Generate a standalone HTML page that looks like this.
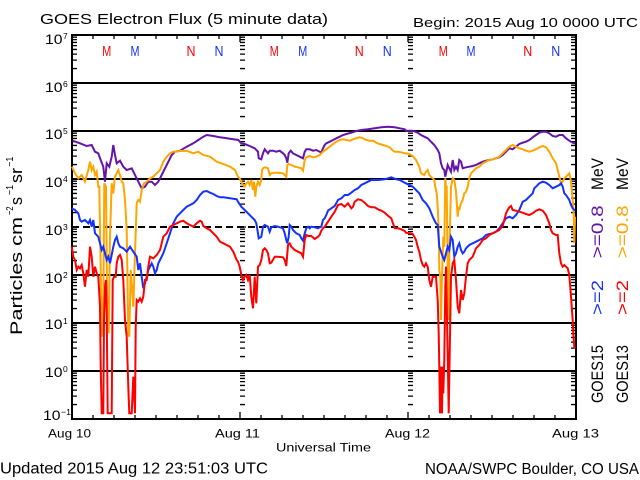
<!DOCTYPE html>
<html><head><meta charset="utf-8"><style>
html,body{margin:0;padding:0;background:#fff;}
svg{display:block;}
text{font-family:"Liberation Sans",sans-serif;fill:#000;}
</style></head><body>
<svg width="640" height="480" viewBox="0 0 640 480" xmlns="http://www.w3.org/2000/svg">
<defs>
<path id="dl" d="M0,-14.45h5M0,-22.9h5M0,-28.9h5M0,-33.55h5M0,-37.35h5M0,-40.56h5M0,-43.35h5M0,-45.8h5" stroke="#000" stroke-width="1.3" fill="none"/>
<path id="dr" d="M0,-14.45h-5M0,-22.9h-5M0,-28.9h-5M0,-33.55h-5M0,-37.35h-5M0,-40.56h-5M0,-43.35h-5M0,-45.8h-5" stroke="#000" stroke-width="1.3" fill="none"/>
</defs>
<rect width="640" height="480" fill="#fff"/>

<!-- title -->
<text x="40" y="24" font-size="15" textLength="288" lengthAdjust="spacingAndGlyphs">GOES Electron Flux (5 minute data)</text>
<text x="413" y="27" font-size="12.5" textLength="225" lengthAdjust="spacingAndGlyphs">Begin: 2015 Aug 10 0000 UTC</text>

<!-- grid -->
<g stroke="#000" stroke-width="2" shape-rendering="crispEdges" fill="none">
<path d="M72,83H576M72,131H576M72,179H576M72,275H576M72,323H576M72,371H576"/>
<path d="M72,227H576" stroke-dasharray="7 4"/>
<rect x="72" y="35" width="504" height="384"/>
</g>

<!-- x ticks -->
<g stroke="#000" stroke-width="1.3" fill="none">
<path d="M93,35v4M114,35v4M135,35v4M156,35v4M177,35v4M198,35v4M219,35v4M240,35v7M261,35v4M282,35v4M303,35v4M324,35v4M345,35v4M366,35v4M387,35v4M408,35v7M429,35v4M450,35v4M471,35v4M492,35v4M513,35v4M534,35v4M555,35v4"/>
<path d="M93,419v-4M114,419v-4M135,419v-4M156,419v-4M177,419v-4M198,419v-4M219,419v-4M240,419v-7M261,419v-4M282,419v-4M303,419v-4M324,419v-4M345,419v-4M366,419v-4M387,419v-4M408,419v-7M429,419v-4M450,419v-4M471,419v-4M492,419v-4M513,419v-4M534,419v-4M555,419v-4"/>
<path d="M240,83h6M240,131h6M240,179h6M240,227h6M240,275h6M240,323h6M240,371h6M408,83h6M408,131h6M408,179h6M408,227h6M408,275h6M408,323h6M408,371h6"/>
</g>

<!-- log minor ticks -->
<g>
<use href="#dl" transform="translate(72,83)"/><use href="#dl" transform="translate(72,131)"/><use href="#dl" transform="translate(72,179)"/><use href="#dl" transform="translate(72,227)"/><use href="#dl" transform="translate(72,275)"/><use href="#dl" transform="translate(72,323)"/><use href="#dl" transform="translate(72,371)"/><use href="#dl" transform="translate(72,419)"/>
<use href="#dl" transform="translate(240,83)"/><use href="#dl" transform="translate(240,131)"/><use href="#dl" transform="translate(240,179)"/><use href="#dl" transform="translate(240,227)"/><use href="#dl" transform="translate(240,275)"/><use href="#dl" transform="translate(240,323)"/><use href="#dl" transform="translate(240,371)"/><use href="#dl" transform="translate(240,419)"/>
<use href="#dl" transform="translate(408,83)"/><use href="#dl" transform="translate(408,131)"/><use href="#dl" transform="translate(408,179)"/><use href="#dl" transform="translate(408,227)"/><use href="#dl" transform="translate(408,275)"/><use href="#dl" transform="translate(408,323)"/><use href="#dl" transform="translate(408,371)"/><use href="#dl" transform="translate(408,419)"/>
<use href="#dr" transform="translate(576,83)"/><use href="#dr" transform="translate(576,131)"/><use href="#dr" transform="translate(576,179)"/><use href="#dr" transform="translate(576,227)"/><use href="#dr" transform="translate(576,275)"/><use href="#dr" transform="translate(576,323)"/><use href="#dr" transform="translate(576,371)"/><use href="#dr" transform="translate(576,419)"/>
</g>

<!-- y labels -->
<g font-size="13.5">
<text x="45" y="44" textLength="17.5" lengthAdjust="spacingAndGlyphs">10</text><text x="63" y="39" font-size="8.5">7</text>
<text x="45" y="92" textLength="17.5" lengthAdjust="spacingAndGlyphs">10</text><text x="63" y="87" font-size="8.5">6</text>
<text x="45" y="139" textLength="17.5" lengthAdjust="spacingAndGlyphs">10</text><text x="63" y="134" font-size="8.5">5</text>
<text x="45" y="187" textLength="17.5" lengthAdjust="spacingAndGlyphs">10</text><text x="63" y="182" font-size="8.5">4</text>
<text x="45" y="235" textLength="17.5" lengthAdjust="spacingAndGlyphs">10</text><text x="63" y="230" font-size="8.5">3</text>
<text x="45" y="283" textLength="17.5" lengthAdjust="spacingAndGlyphs">10</text><text x="63" y="278" font-size="8.5">2</text>
<text x="45" y="329" textLength="17.5" lengthAdjust="spacingAndGlyphs">10</text><text x="63" y="324" font-size="8.5">1</text>
<text x="45" y="377" textLength="17.5" lengthAdjust="spacingAndGlyphs">10</text><text x="63" y="372" font-size="8.5">0</text>
<text x="43" y="420" textLength="17.5" lengthAdjust="spacingAndGlyphs">10</text><text x="61" y="415" font-size="8.5" textLength="10" lengthAdjust="spacingAndGlyphs">−1</text>
</g>

<!-- y axis title -->
<g transform="translate(22,335) rotate(-90)" font-size="17">
<text x="0" y="0" textLength="118" lengthAdjust="spacingAndGlyphs">Particles cm</text>
<text x="120" y="-9" font-size="10" textLength="8.5" lengthAdjust="spacingAndGlyphs">−2</text>
<text x="130" y="0" textLength="8" lengthAdjust="spacingAndGlyphs">s</text>
<text x="140" y="-9" font-size="10" textLength="10" lengthAdjust="spacingAndGlyphs">−1</text>
<text x="152" y="0" textLength="15" lengthAdjust="spacingAndGlyphs">sr</text>
<text x="168.3" y="-9" font-size="10" textLength="10" lengthAdjust="spacingAndGlyphs">−1</text>
</g>

<!-- M/N markers -->
<g font-size="15">
<text x="102.2" y="56" fill="#ff0000" style="fill:#ff0000" textLength="9" lengthAdjust="spacingAndGlyphs">M</text>
<text x="130.5" y="56" style="fill:#1432ff" textLength="9" lengthAdjust="spacingAndGlyphs">M</text>
<text x="186.5" y="56" style="fill:#ff0000" textLength="9" lengthAdjust="spacingAndGlyphs">N</text>
<text x="214.5" y="56" style="fill:#1432ff" textLength="9" lengthAdjust="spacingAndGlyphs">N</text>
<text x="269.8" y="56" style="fill:#ff0000" textLength="9" lengthAdjust="spacingAndGlyphs">M</text>
<text x="298.2" y="56" style="fill:#1432ff" textLength="9" lengthAdjust="spacingAndGlyphs">M</text>
<text x="354.8" y="56" style="fill:#ff0000" textLength="9" lengthAdjust="spacingAndGlyphs">N</text>
<text x="382.8" y="56" style="fill:#1432ff" textLength="9" lengthAdjust="spacingAndGlyphs">N</text>
<text x="438.8" y="56" style="fill:#ff0000" textLength="9" lengthAdjust="spacingAndGlyphs">M</text>
<text x="466.5" y="56" style="fill:#1432ff" textLength="9" lengthAdjust="spacingAndGlyphs">M</text>
<text x="523.2" y="56" style="fill:#ff0000" textLength="9" lengthAdjust="spacingAndGlyphs">N</text>
<text x="551.2" y="56" style="fill:#1432ff" textLength="9" lengthAdjust="spacingAndGlyphs">N</text>
</g>

<!-- data -->
<g fill="none" stroke-width="2" stroke-linejoin="miter">
<polyline stroke="#6414aa" points="72.7,140.7 80,143.3 86.7,146 91.7,145 95,151.7 98.3,153.3 100.7,160 103.3,166.7 105,181.7 106.7,163.3 109.3,166.7 111.7,156.7 113.3,145 115,155 116.7,163.3 120,160.7 123.3,166.7 126.7,170 131.7,168.3 135,175 138.3,181.7 141.7,188.3 145,186.7 148.3,181.7 151.7,181.7 155,185 158.3,181.7 161.7,175 166.7,165 171.7,155 175,151.7 180,150.7 186.7,146.7 193.3,143.3 198.3,140 203.3,136.7 206.7,135 213.3,136 220,137.3 226.7,138.3 233.3,139.3 238.3,140 241.3,143.3 244.7,144 249.7,146 254.7,148.3 258,151.7 258.7,158.3 261.3,159.3 263,153.3 264.7,149.3 268,153.3 269.7,150.7 273,150.7 276.3,151.7 279.7,150.7 283,153.3 284.7,155 286.3,158.3 287.3,162.7 288.7,153.3 290.7,150.7 293,153.3 296.3,155 299.7,156.7 303,158.3 304.7,151.7 306.3,149.3 309.7,149.3 313,150.7 316.3,150 319.7,151.7 321.3,152.7 323,148.3 324.7,145 326.3,143.3 329.7,141.7 333,140 336.3,138.3 339.7,136.7 343,135 346.3,134 351.3,132.7 356.3,131 361.3,130 368,129.3 374.7,128.3 381.3,127.3 388,126.7 394.7,127.3 399.7,128.3 404.7,129.3 406,130.7 412.7,130.7 417.7,132.7 421,135 424.3,136.7 427.7,138.3 431,141.7 434.3,145 437.7,150 439.3,153.3 441,163.3 442.7,168.3 444.3,170 445.3,176.7 446.7,170 447.7,165 449.3,168.3 451,171.7 452.7,160 454.3,170 456,166.7 457.7,170 459.3,160 461,161.7 462.7,168.3 466,167.3 469.3,166.7 472.7,166 476,165 479.3,163.3 482.7,161.7 486,160.7 489.3,160 492.7,159.3 496,158.3 499.3,157.3 502.7,155 506,151.7 509.3,148.3 512.7,149.3 516,146.7 519.3,144 522.7,142.7 526,141.7 529.3,140 532.7,137.3 536,135 539.3,132.7 542.7,131.7 546,131.7 549.3,133.3 552.7,136 556,136.7 559.3,135 562.7,135 566,138.3 569.3,140.7 572.7,142.7 575,143.3"/>
<polyline stroke="#ffa500" points="72,166.7 75,173.3 78.3,178.3 81.7,175 85,181.7 88.3,170 90,161.7 91.7,170 93.3,166.7 95,175 96.7,171.7 98.3,186.7 99.3,186.7 100.7,270 101.7,336.7 103.3,306.7 104.3,183.3 106,186.7 107.3,320 108.7,333.3 110,236.7 111.7,183.3 113.3,193.3 115,176.7 116.7,173.3 118.3,170 120,175 121.7,181.7 123.3,183.3 125,200 126.7,230 128.3,333.3 129.3,336.7 130.7,270 132,286.7 133.3,306.7 135,253.3 136.7,203.3 138.3,200 140,201.7 141.7,190 144,183.3 146.7,181.7 150,178.3 153.3,176.7 156.7,173.3 160,170 163.3,161.7 166.7,156.7 170,153.3 173.3,151.7 180,151 186.7,150.7 193.3,153.3 198.3,151.7 203.3,155 210,156.7 216.7,161.7 223.3,164 230,166.7 235,170 238,176.7 239.7,178.3 241.3,181.7 243,185 244.7,186.7 246.3,183.3 248,181.7 249.7,185 251.3,180 253,190 254,181.7 255.3,196.7 256.3,186.7 258,181.7 259.7,185 261.3,180 262,170 263,168.3 264.7,167.3 268,168.3 269.7,175 271.3,173.3 274.7,172.7 278,172.7 283,173.3 286.3,176.7 287.3,165 288.7,164 291.3,165 294.7,166.7 298,167.3 301.3,168.3 303,170.7 304.7,160 306.3,157.3 309.7,156 313,157.3 316.3,156.7 319.7,155 323,151.7 326.3,149.3 329.7,146.7 333,144 336.3,141.7 339.7,140 343,139.3 346.3,140 349.7,140.7 353,139.3 356.3,138.3 359.7,137.3 363,138.3 366.3,140 369.7,140.7 373,140.7 376.3,142.7 379.7,144 383,145 386.3,146 389.7,147.3 393,150.7 394.7,151.7 398,151.7 401.3,152.3 404.7,153.3 406,153.3 409.3,154 412.7,156 416,160 419.3,166.7 421,173.3 424.3,175 426,171.7 427.7,170 429.3,175 431,176.7 432.7,178.3 434.3,180 435.3,186.7 436.7,193.3 437.7,206.7 438.7,230 439.3,270 440.3,276.7 441,320 442,276.7 443.3,236.7 444.3,246.7 445.3,178.3 446,186.7 446.7,186.7 447.7,270 448.7,320 449.3,253.3 451,186.7 452.7,178.3 454.3,180 456,191.7 457.7,216.7 458.7,206.7 459.3,210 461,203.3 462.7,200 464.3,193.3 466,191.7 467.7,186.7 469.3,178.3 471,173.3 472.7,171.7 476,168.3 479.3,166.7 482.7,163.3 486,161.7 489.3,160 492.7,159.3 496,158.3 499.3,156.7 502.7,153.3 506,150 509.3,146.7 512.7,145 516,146.7 519.3,148.3 522.7,149.3 526,150.7 529.3,151.7 532.7,150.7 536,149.3 539.3,147.3 542.7,146 546,147.3 549.3,151.7 552.7,158.3 556,163.3 557.7,170 559.3,176.7 561,183.3 562.7,181.7 564.3,178.3 566,176.7 567.7,175 569.3,173.3 571,181.7 572.7,200 573.7,213.3 574.3,243.3 575,216.7"/>
<polyline stroke="#1432ff" points="71.7,208.3 75,210 78.3,213.3 80,220 81.7,221.7 85,220 88.3,223.3 90,220 91.7,226.7 93.3,220 95,233.3 98.3,236.7 100,243.3 101.7,250 103.3,246.7 105,253.3 106.7,260 108.3,256.7 110,263.3 113.3,246.7 115,240 116.7,236.7 118.3,243.3 120,246.7 123.3,248.3 126.7,251.7 130,246.7 133.3,251.7 136.7,256.7 138.3,270 140,263.3 141.7,276.7 143.3,288.3 145,283.3 146.7,276.7 148.3,270 150,266.7 151.7,263.3 153.3,266.7 155,273.3 156.7,270 158.3,263.3 160,260 163.3,253.3 166.7,243.3 170,233.3 173.3,223.3 176.7,216.7 180,213.3 183.3,210 186.7,206.7 190,205 193.3,203.3 196.7,200 200,195 203.3,191.7 206.7,191 210,192.7 213.3,194 216.7,196 220,197.3 223.3,197.3 230,198.3 236.7,199.3 238,201.7 241.3,206.7 244.7,210 248,213.3 251.3,216.7 254.7,220 256.3,223.3 258,233.3 258.7,238.3 261.3,236.7 263,226.7 264.7,225 268,226.7 269.7,231.7 271.3,227.3 274.7,226 278,226.7 283,228.3 284.7,233.3 286.3,240 287.3,243.3 288.7,236.7 289.7,225 291.3,226.7 293,230 296.3,233.3 299.7,235 301.3,238.3 303,240.7 304.7,233.3 306.3,228.3 308,226.7 309.7,228.3 311.3,226.7 314.7,227.3 318,228.3 319.7,227.3 321.3,226.7 323,220 324.7,218.3 326.3,215 328,210.7 331.3,208.3 334.7,206 338,200 341.3,198.3 344.7,195 348,195 351.3,192.7 354.7,190 358,188.3 361.3,185 364.7,183.3 368,181.7 371.3,180 378,180 384.7,179.3 391.3,177.3 396.3,179.3 399.7,180 404.7,182.7 406,183.3 409.3,185 412.7,186.7 416,190 419.3,193.3 422.7,200 426,203.3 429.3,208.3 432.7,216.7 434.3,220 436,223.3 437.7,225 439.3,246.7 441,251.7 442.7,256.7 444.3,260 446,253.3 447.7,246.7 449.3,250 451,236.7 452.7,240 454.3,256.7 456,253.3 457.7,246.7 459.3,243.3 461,250 462.7,253.3 464.3,251.7 466,248.3 469.3,245 472.7,243.3 476,241.7 479.3,240 482.7,238.3 486,235 489.3,234 492.7,233.3 496,231.7 499.3,228.3 502.7,223.3 506,218.3 509.3,216.7 512.7,218.3 516,215 519.3,210 522.7,201.7 526,200 529.3,196.7 532.7,193.3 534.3,188.3 536,186.7 539.3,183.3 542.7,181.7 546,182.7 549.3,185 552.7,188.3 556,186.7 559.3,185 561,183.3 562.7,186.7 564.3,193.3 566,195 569.3,200 571,205 572.7,208.3 575,210.7"/>
<polyline stroke="#ff0000" points="71.7,246.7 73.3,256.7 75,260 76.7,270 78.3,266.7 80,268.3 81.7,265 83.3,273.3 85,286.7 86.7,270 88.3,276.7 90,246.7 91.7,256.7 93.3,276.7 95,266.7 96.7,273.3 98.3,276.7 100,306.7 100.7,366.7 101.7,413.3 103.3,413.3 104,320 105,286.7 106,280 106.7,313.3 107.7,413.3 109.3,413.3 111.7,413.3 112.7,280 114,276.7 115.7,276.7 116.7,263.3 118.3,256.7 120,255 121.7,260 123.3,280 125,320 126.7,336.7 128.3,386.7 129.3,413.3 131.7,413.3 133.3,376.7 135,413.3 135.7,326.7 136.7,300 138.3,301.7 140,298.3 141.7,301.7 143.3,296.7 145,280 146.7,280 148.3,266.7 150,256.7 153.3,258.3 156.7,255 160,250 163.3,236.7 166.7,233.3 170,226.7 173.3,225 176.7,223.3 180,221.7 183.3,220.7 186.7,223.3 190,225 193.3,226.7 196.7,223.3 200,220.7 201.7,221.7 203.3,226 206.7,228.3 210,230 213.3,233.3 216.7,236.7 220,241.7 223.3,243.3 226.7,245 230,246.7 233.3,251.7 236.7,260 238,261.7 239.7,266.7 241.3,275 243,280 244.7,276.7 246.3,275 248,280 249.7,275 251.3,296.7 253,308.3 254.7,276.7 256.3,303.3 258,266.7 259.7,265 261.3,260 263,250 264.7,248.3 266.3,250 268,253.3 269.7,263.3 271.3,262.7 274.7,256.7 278,256.7 283,257.3 284.7,260 286.3,266 288,245 289.7,243.3 291.3,246.7 294.7,250 298,251.7 301.3,253.3 303,256.7 304.7,240 306.3,235 308,236 311.3,236 314.7,239 318,236.7 319.7,235 321.3,230.7 323,228.3 324.7,226.7 328,221.7 331.3,216.7 334.7,211.7 338,205 341.3,204 344.7,206.7 348,203.3 351.3,208.3 353,206.7 354.7,201.7 358,199.3 361.3,200 364.7,202.7 368,206 371.3,207.3 374.7,207.3 378,209.3 381.3,210.7 384.7,212.7 388,215.7 391.3,218.3 393,223.3 394.7,228.3 398,228.3 401.3,229.3 404.7,231 406,232.7 409.3,233.3 412.7,234 414.3,236.7 416,240 417.7,246.7 419.3,251.7 421,260 422.7,265 424.3,266.7 426,263.3 427.7,266.7 429.3,280 431,286.7 432.7,276.7 434.3,276.7 436,276.7 437.7,300 438.7,333.3 439.3,366.7 440,413.3 441,366.7 442,413.3 442.7,366.7 443.3,393.3 444.3,360 445.3,286.7 446,266.7 447.7,353.3 448.7,413.3 449.3,376.7 451,276.7 452.7,263.3 454.3,260 456,280 457.7,306.7 459.3,313.3 461,290 462.7,300 464.3,293.3 466,276.7 467.7,263.3 469.3,260 472.7,256.7 476,248.3 479.3,245 482.7,240 486,238.3 489.3,235 492.7,233.3 496,231.7 499.3,230 502.7,226 504.3,220 506,213.3 507.7,210 509.3,207.3 511,206 512.7,210 516,210.7 519.3,211.7 522.7,212.7 526,214 529.3,215 532.7,213.3 536,210.7 539.3,209.3 542.7,210.7 546,215 549.3,223.3 551,230 552.7,233.3 556,235 557.7,235 559.3,253.3 561,263.3 562.7,266.7 564.3,265 566,266.7 567.7,268.3 569.3,275 571,296.7 572.7,320 573.3,333.3 574.3,346.7 575,348.3"/>
</g>

<!-- right side labels -->
<g transform="translate(603,403) rotate(-90)" font-size="17">
<text x="0" y="0" textLength="58" lengthAdjust="spacingAndGlyphs">GOES15</text>
<text x="88" y="0" style="fill:#1432ff" textLength="35" lengthAdjust="spacingAndGlyphs">&gt;=2</text>
<text x="144.7" y="0" style="fill:#6414aa" textLength="53" lengthAdjust="spacingAndGlyphs">&gt;=0.8</text>
<text x="213" y="0" textLength="32" lengthAdjust="spacingAndGlyphs">MeV</text>
</g>
<g transform="translate(628,403) rotate(-90)" font-size="17">
<text x="0" y="0" textLength="58" lengthAdjust="spacingAndGlyphs">GOES13</text>
<text x="88" y="0" style="fill:#ff0000" textLength="35" lengthAdjust="spacingAndGlyphs">&gt;=2</text>
<text x="144.7" y="0" style="fill:#ffa500" textLength="53" lengthAdjust="spacingAndGlyphs">&gt;=0.8</text>
<text x="213" y="0" textLength="32" lengthAdjust="spacingAndGlyphs">MeV</text>
</g>

<!-- x labels -->
<g font-size="11.5">
<text x="48" y="437.5" textLength="43" lengthAdjust="spacingAndGlyphs">Aug 10</text>
<text x="215" y="437.5" textLength="45" lengthAdjust="spacingAndGlyphs">Aug 11</text>
<text x="385" y="437.5" textLength="45" lengthAdjust="spacingAndGlyphs">Aug 12</text>
<text x="552" y="437.5" textLength="47" lengthAdjust="spacingAndGlyphs">Aug 13</text>
<text x="276" y="451.5" textLength="95" lengthAdjust="spacingAndGlyphs">Universal Time</text>
</g>

<text x="0" y="473.5" font-size="15.5" textLength="268" lengthAdjust="spacingAndGlyphs">Updated 2015 Aug 12 23:51:03 UTC</text>
<text x="425" y="474" font-size="15.5" textLength="214" lengthAdjust="spacingAndGlyphs">NOAA/SWPC Boulder, CO USA</text>
</svg>
</body></html>
